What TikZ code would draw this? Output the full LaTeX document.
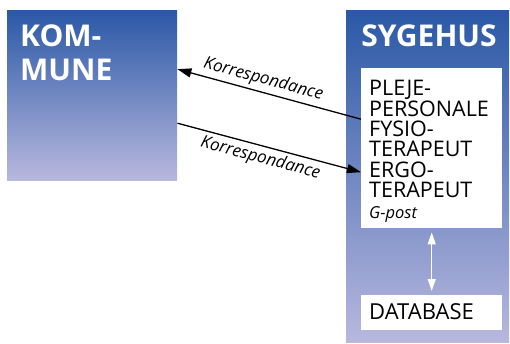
\documentclass[tikz,border=0pt]{standalone}
\usepackage{fontspec}
\setmainfont{Open Sans}
\usetikzlibrary{positioning,arrows.meta}
\definecolor{topblue}{RGB}{42,88,166}
\definecolor{midblue}{RGB}{118,128,192}
\definecolor{lowblue}{RGB}{184,184,222}
\tikzset{
  bluebox/.style={top color=topblue,middle color=midblue,bottom color=lowblue,draw=none,inner sep=0pt},
  whitebox/.style={fill=white,draw=none,inner sep=0pt},
  title/.style={text=white,font=\fontsize{30}{34}\selectfont\bfseries,align=left,inner sep=0pt},
  corr/.style={-{Triangle[length=14pt,width=9pt]},line width=1.3pt},
  corrlabel/.style={font=\fontsize{17}{18}\selectfont\itshape,inner sep=3.5pt}
}
\begin{document}
\begin{tikzpicture}[x=1pt,y=1pt]
\useasboundingbox (0,0) rectangle (510,343);
% kasser
\node[bluebox,minimum width=170pt,minimum height=170pt,anchor=north west] (kommune) at (7,333) {};
\node[bluebox,minimum width=163pt,minimum height=332pt,anchor=north west] (sygehus) at (346,333) {};
\node[whitebox,minimum width=141pt,minimum height=160pt,anchor=north west] (personale) at (361,275) {};
\node[whitebox,minimum width=141pt,minimum height=35pt,anchor=north west] (database) at (361,48) {};
% tekster (base = sidste linje)
\node[title,anchor=base west] (kommunetxt) at (20,262) {KOM-\\MUNE};
\node[title,anchor=base] (sygehustxt) at (429,296) {SYGEHUS};
\node[anchor=base west,align=left,inner sep=0pt,font=\fontsize{21.5}{20.4}\selectfont] (personaletxt) at (369,125)
  {PLEJE-\\PERSONALE\\FYSIO-\\TERAPEUT\\ERGO-\\TERAPEUT\\{\fontsize{16.5}{20.4}\selectfont\itshape G-post}};
\node[anchor=base west,inner sep=0pt,font=\fontsize{22}{24}\selectfont] (databasetxt) at (369,24) {DATABASE};
% pile
\coordinate (a1) at ([yshift=29pt]personale.west);
\coordinate (a2) at ([yshift=26pt]kommune.east);
\coordinate (b1) at ([yshift=-28pt]kommune.east);
\coordinate (b2) at ([yshift=-24pt]personale.west);
\draw[corr] (a1) -- (a2) node[pos=0.55,sloped,above,corrlabel] (k1) {Korrespondance};
\draw[corr] (b1) -- (b2) node[pos=0.47,sloped,below,corrlabel] (k2) {Korrespondance};
\draw[white,line width=1.2pt,{Triangle[length=12pt,width=8pt]}-{Triangle[length=12pt,width=8pt]},shorten <=4pt,shorten >=4pt] (personale.south) -- (database.north);
\end{tikzpicture}
\end{document}
